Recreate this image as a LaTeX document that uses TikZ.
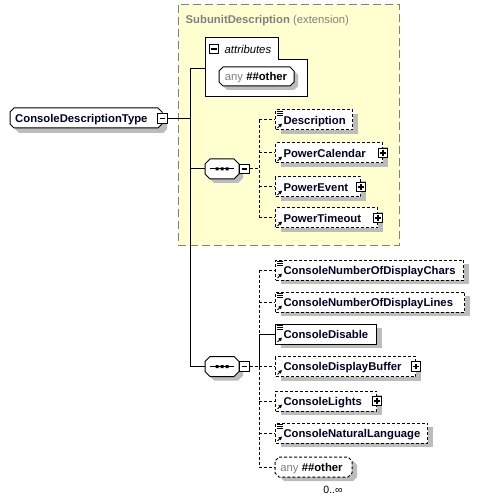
\documentclass[tikz,border=0pt]{standalone}
\usepackage{fontspec}
\setmainfont{Liberation Sans}
\usetikzlibrary{shadows,arrows.meta}
\definecolor{ylw}{RGB}{255,255,208}
\definecolor{shd}{RGB}{188,188,188}
\definecolor{gtxt}{RGB}{128,128,128}
\definecolor{ntxt}{RGB}{0,0,40}
\newcommand\octo[5]{(#1+#5,#2) -- (#3-#5,#2) -- (#3,#2+#5) -- (#3,#4-#5) -- (#3-#5,#4) -- (#1+#5,#4) -- (#1,#4-#5) -- (#1,#2+#5) -- cycle}
\newcommand\simpicon[1]{\draw[line width=0.9pt] ([xshift=2pt,yshift=-2pt]#1.north west) -- ++(6,0) ([xshift=2pt,yshift=-4pt]#1.north west) -- ++(6,0) ([xshift=2pt,yshift=-6pt]#1.north west) -- ++(6,0);}
\newcommand\reficon[1]{\draw[line width=1pt,-{Triangle[length=3.5pt,width=3.5pt]}] ([xshift=2.5pt,yshift=2.5pt]#1.south west) -- ++(4.5,-4.5);}
\newcommand\ename[2]{\makebox[#1pt][l]{\hspace{8pt}#2}}
\begin{document}
\begin{tikzpicture}[x=1pt,y=-1pt,
  base/.style={font=\fontsize{11.3}{13.5}\selectfont, text height=8.1pt, text depth=0pt},
  elem/.style={draw=black, line width=1pt, fill=white, rectangle, inner sep=0pt,
    minimum height=20pt, anchor=west, text height=8.1pt, text depth=0pt, text=ntxt,
    font=\fontsize{11.3}{13.5}\selectfont\bfseries,
    drop shadow={shadow xshift=5pt, shadow yshift=-4pt, fill=shd, opacity=1}},
  optel/.style={elem, dash pattern=on 3pt off 2pt},
  reqel/.style={elem},
  conn/.style={line width=1pt, draw=black},
  dconn/.style={conn, dash pattern=on 3pt off 2pt},
  boxbase/.style={draw=black, fill=white, line width=1.4pt, minimum size=9.5pt, inner sep=0pt},
  exbox/.style={boxbase, path picture={\draw[line width=1.2pt] ([xshift=1.8pt]path picture bounding box.west) -- ([xshift=-1.8pt]path picture bounding box.east) ([yshift=1.8pt]path picture bounding box.south) -- ([yshift=-1.8pt]path picture bounding box.north);}},
  colbox/.style={boxbase, path picture={\draw[line width=1.2pt] ([xshift=1.8pt]path picture bounding box.west) -- ([xshift=-1.8pt]path picture bounding box.east);}},
]
\useasboundingbox (0,0) rectangle (492,502);

% extension box
\node[draw=gtxt, fill=ylw, line width=1pt, dash pattern=on 8pt off 4pt, inner sep=0pt,
  minimum width=221pt, minimum height=241pt, anchor=north west] (ext) at (177.5,4) {};
\node[anchor=west, inner sep=0pt, text=gtxt, base] (exttitle) at (185.5,19) {\textbf{SubunitDescription} (extension)};

% root
\fill[shd] \octo{15}{113}{167}{133}{4};
\draw[line width=1pt, fill=white] \octo{10}{108}{162}{128}{4};
\node[anchor=west, inner sep=0pt, base, text=ntxt, font=\fontsize{11.3}{13.5}\selectfont\bfseries] (root) at (15,118) {ConsoleDescriptionType};
\node[colbox] (rootm) at (162.5,118.5) {};

% attributes
\draw[line width=1pt, fill=white] (205,38) -- (278,38) -- (278,60) -- (307,60) -- (307,97) -- (205,97) -- cycle;
\node[colbox] (attm) at (214,49) {};
\node[anchor=west, inner sep=0pt, base, font=\fontsize{11.3}{13.5}\selectfont\itshape] (attl) at (224.5,49.5) {attributes};
\coordinate (attL) at (205,69);
\fill[shd] \octo{223}{71}{298}{90}{4};
\draw[line width=1pt, fill=white] \octo{219}{67}{294}{86}{4};
\node[base, inner sep=0pt] (attany) at (256,76.5) {\textcolor{gtxt}{any} \textbf{\#\#other}};

% sequence 1
\fill[shd] \octo{209}{163}{243}{183}{5};
\draw[line width=1pt, fill=white] \octo{205}{159}{239}{179}{5};
\node[inner sep=0pt, minimum width=34pt, minimum height=20pt] (seq1) at (222,169) {};
\draw[line width=1pt] (210,169) -- (234,169);
\fill (215.5,167.5) rectangle ++(3,3) (220.5,167.5) rectangle ++(3,3) (225.5,167.5) rectangle ++(3,3);
\node[colbox] (seq1m) at (244.5,169) {};

% sequence 2
\fill[shd] \octo{209}{360.5}{243}{380.5}{5};
\draw[line width=1pt, fill=white] \octo{205}{356.5}{239}{376.5}{5};
\node[inner sep=0pt, minimum width=34pt, minimum height=20pt] (seq2) at (222,366.5) {};
\draw[line width=1pt] (210,366.5) -- (234,366.5);
\fill (215.5,365) rectangle ++(3,3) (220.5,365) rectangle ++(3,3) (225.5,365) rectangle ++(3,3);
\node[colbox] (seq2m) at (244.5,366.5) {};

% trunk
\coordinate (tk) at (190.5,118.5);
\draw[conn] (rootm.east) -- (tk);
\draw[conn] (attL) -| (tk |- seq2.west) -- (seq2.west);
\draw[conn] (tk |- seq1.west) -- (seq1.west);

% top group elements
\node[optel] (desc) at (275,120) {\ename{77}{Description}};
\node[optel] (pcal) at (275,153) {\ename{107}{PowerCalendar}};
\node[optel] (pev) at (275,187) {\ename{85}{PowerEvent}};
\node[optel] (pto) at (275,218) {\ename{102}{PowerTimeout}};

% bottom group elements
\node[optel] (cnc) at (275,270) {\ename{188}{ConsoleNumberOfDisplayChars}};
\node[optel] (cnl) at (275,302) {\ename{189}{ConsoleNumberOfDisplayLines}};
\node[reqel] (cdis) at (275,334) {\ename{101}{ConsoleDisable}};
\node[optel] (cdb) at (275,366.5) {\ename{140}{ConsoleDisplayBuffer}};
\node[optel] (cli) at (275,401) {\ename{101}{ConsoleLights}};
\node[optel] (cnat) at (275,433) {\ename{152}{ConsoleNaturalLanguage}};

% any ##other (bottom)
\fill[shd] \octo{280}{461}{357}{481}{4};
\draw[line width=1pt, fill=white, dash pattern=on 3pt off 2pt] \octo{275}{457}{352}{477}{4};
\node[base, inner sep=0pt] (any2) at (311.5,467) {\textcolor{gtxt}{any} \textbf{\#\#other}};
\coordinate (any2L) at (275,467);
\node[font=\fontsize{10.5}{12}\selectfont, inner sep=0pt] (occ) at (333,490) {0..∞};

% icons
\foreach \n in {desc,cnc,cnl,cdis,cnat} {\simpicon{\n}}
\foreach \n in {desc,pcal,pev,pto,cnc,cnl,cdis,cdb,cli,cnat} {\reficon{\n}}
\node[exbox] (pcalx) at (pcal.east) {};
\node[exbox] (pevx) at (pev.east) {};
\node[exbox] (ptox) at (pto.east) {};
\node[exbox] (cdbx) at (cdb.east) {};
\node[exbox] (clix) at (cli.east) {};

% bus 1
\coordinate (b1) at (259,169);
\draw[dconn] (seq1m.east) -- (b1);
\draw[dconn] (b1 |- desc.west) -- (b1 |- pto.west);
\foreach \n in {desc,pcal,pev,pto} {\draw[dconn] (b1 |- \n.west) -- (\n.west);}

% bus 2
\coordinate (b2) at (259,366.5);
\draw[dconn] (seq2m.east) -- (b2);
\draw[dconn] (b2 |- cnc.west) -- (b2 |- cdis.west);
\draw[conn] (b2 |- cdis.west) -- (b2);
\draw[dconn] (b2) -- (b2 |- any2L);
\foreach \n in {cnc,cnl,cdb,cli,cnat} {\draw[dconn] (b2 |- \n.west) -- (\n.west);}
\draw[conn] (b2 |- cdis.west) -- (cdis.west);
\draw[dconn] (b2 |- any2L) -- (any2L);
\end{tikzpicture}
\end{document}
